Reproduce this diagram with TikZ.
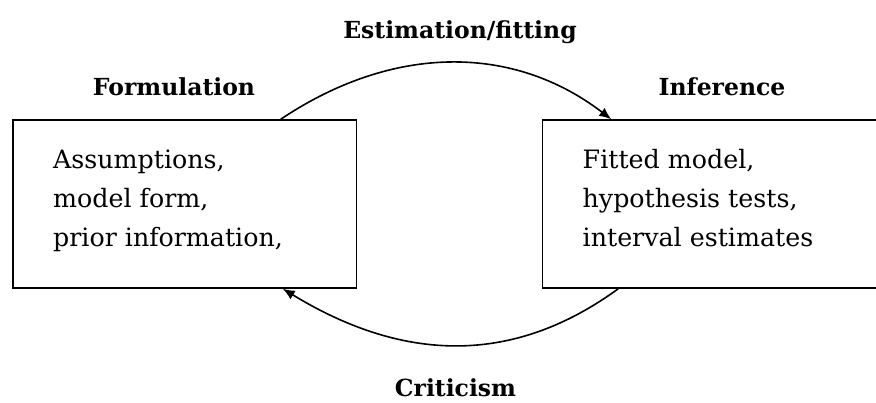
\documentclass[tikz,border=0pt]{standalone}
\usepackage{fontspec}
\setmainfont{DejaVu Serif}
\usetikzlibrary{arrows.meta}
\tikzset{
  box/.style={draw, line width=1.5pt, rectangle, inner sep=0pt},
  body/.style={anchor=base west, inner sep=0pt, font=\fontsize{25.3}{30}\selectfont},
  head/.style={anchor=base, inner sep=0pt, font=\fontsize{23.5}{28}\selectfont\bfseries},
  conn/.style={line width=1.6pt, -{Latex[length=12pt,width=10pt]}}
}
\begin{document}
\begin{tikzpicture}[x=1pt,y=-1pt]
\useasboundingbox (0,0) rectangle (876,403);
\node[box, minimum width=343.5pt, minimum height=168pt] (lbox) at (184.75,204) {};
\node[box, minimum width=337.5pt, minimum height=168pt] (rbox) at (711.25,204) {};
\node[body] (l1) at (53,169) {Assumptions,};
\node[body] (l2) at (53,208) {model form,};
\node[body] (l3) at (53,247) {prior information,};
\node[body] (r1) at (582.5,169) {Fitted model,};
\node[body] (r2) at (582.5,208) {hypothesis tests,};
\node[body] (r3) at (582.5,247) {interval estimates};
\node[head] (form) at (174,96) {Formulation};
\node[head] (inf) at (722,96) {Inference};
\node[head] (est) at (460,39) {Estimation/fitting};
\node[head] (crit) at (455.5,397) {Criticism};
\coordinate (a1) at ([xshift=-76.5pt]lbox.north east);
\coordinate (a2) at ([xshift=69.5pt]rbox.north west);
\coordinate (b1) at ([xshift=76.5pt]rbox.south west);
\coordinate (b2) at ([xshift=-74.5pt]lbox.south east);
\draw[conn] (a1) .. controls (393,44) and (513,44) .. (a2);
\draw[conn] (b1) .. controls (515,364) and (406,364) .. (b2);
\end{tikzpicture}
\end{document}
